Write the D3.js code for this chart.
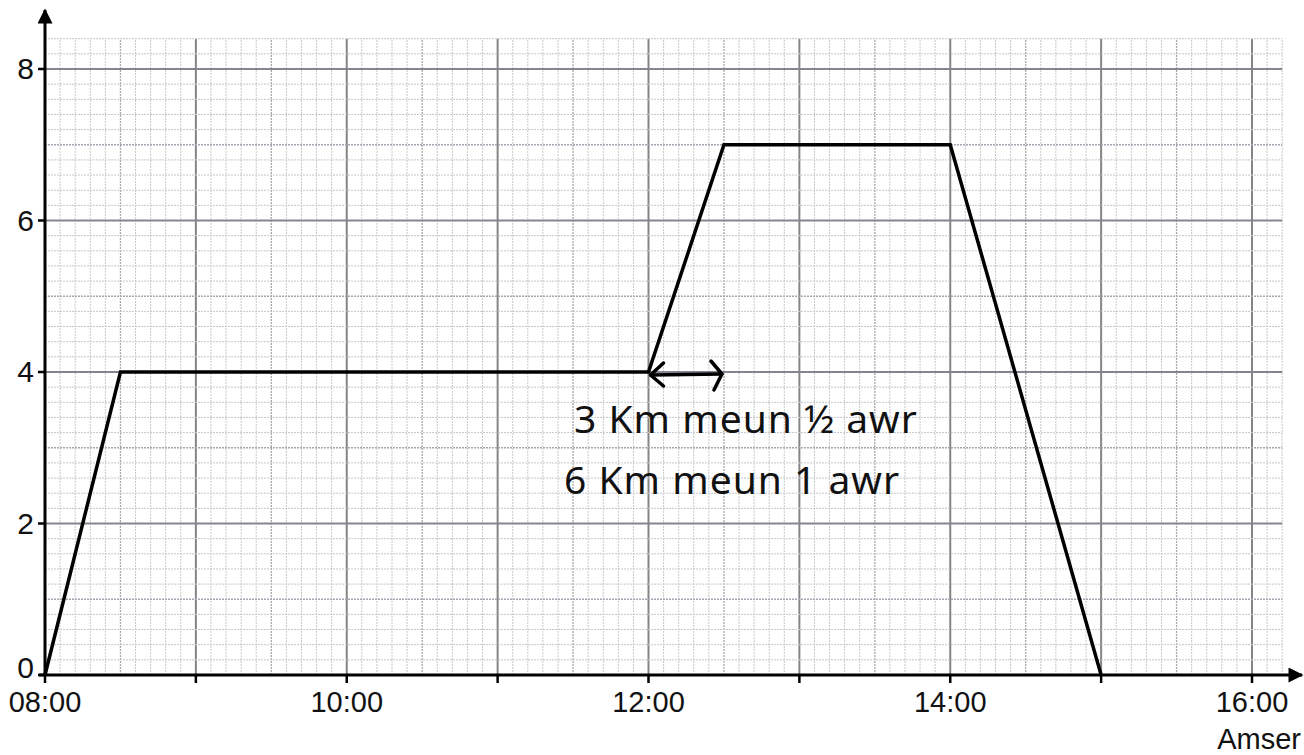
<!DOCTYPE html>
<html>
<head>
<meta charset="UTF-8">
<title>Pellter - Amser</title>
<script src="https://d3js.org/d3.v7.min.js"></script>
<style>
  * { margin: 0; padding: 0; }
  body { background: #fff; }
  text { font-family: "Liberation Sans", Arial, sans-serif; fill: #111; }
  .note { font-family: "Noto Sans", "DejaVu Sans", sans-serif; font-size: 39px; letter-spacing: 1px; }
</style>
</head>
<body>
<svg id="main" width="1304" height="755"></svg>
<script>
// journey: time (hours) vs distance
const times = [8, 8.5, 12, 12.5, 14, 15];
const distances = [0, 4, 4, 7, 7, 0];
const yTicks = [0, 2, 4, 6, 8];
const xTicks = [8, 9, 10, 11, 12, 13, 14, 15, 16];
const xLabels = ["08:00", "10:00", "12:00", "14:00", "16:00"];
const notes = ["3 Km meun ½ awr", "6 Km meun 1 awr"];
const xTitle = "Amser";

const svg = d3.select("#main");

const x = d3.scaleLinear().domain([8, 16]).range([45, 1252]);
const y = d3.scaleLinear().domain([0, 8]).range([675, 69]);

const xMax = 16.2, yMax = 8.4;

// graph paper grid
const grid = svg.append("g");
const vLines = d3.range(0, 83).map(i => 8 + i * 0.1);
const hLines = d3.range(0, 43).map(i => i * 0.2);

function vStyle(i) {
    if (i % 10 === 0) return ["#858585", 2];
    if (i % 5 === 0) return ["#a9a9a9", 1.3];
    return ["#c8c8c8", 1];
}
function hStyle(i) {
    if (i % 10 === 0) return ["#858590", 2];
    if (i % 5 === 0) return ["#a4a6b2", 1.3];
    return ["#c4c6ce", 1];
}

grid.selectAll("line.v")
    .data(vLines)
    .enter().append("line")
    .attr("class", "v")
    .attr("x1", d => x(d)).attr("x2", d => x(d))
    .attr("y1", y(0)).attr("y2", y(yMax))
    .attr("stroke", (d, i) => vStyle(i)[0])
    .attr("stroke-width", (d, i) => vStyle(i)[1])
    .attr("stroke-dasharray", (d, i) => i % 10 === 0 ? null : "2,1");

grid.selectAll("line.h")
    .data(hLines)
    .enter().append("line")
    .attr("class", "h")
    .attr("x1", x(8)).attr("x2", x(xMax))
    .attr("y1", d => y(d)).attr("y2", d => y(d))
    .attr("stroke", (d, i) => hStyle(i)[0])
    .attr("stroke-width", (d, i) => hStyle(i)[1])
    .attr("stroke-dasharray", (d, i) => i % 10 === 0 ? null : "2,1");

// axes with arrows
svg.append("defs").append("marker")
    .attr("id", "arrow")
    .attr("viewBox", "0 0 10 10")
    .attr("refX", 9).attr("refY", 5)
    .attr("markerWidth", 5.5).attr("markerHeight", 5)
    .attr("markerUnits", "strokeWidth")
    .attr("orient", "auto")
    .append("path")
    .attr("d", "M0,0 L10,5 L0,10 Z")
    .attr("fill", "#000");

svg.append("line")
    .attr("x1", x(8)).attr("y1", y(0))
    .attr("x2", x(8)).attr("y2", 10)
    .attr("stroke", "#000").attr("stroke-width", 3)
    .attr("marker-end", "url(#arrow)");

svg.append("line")
    .attr("x1", x(8) - 6).attr("y1", y(0))
    .attr("x2", 1302).attr("y2", y(0))
    .attr("stroke", "#000").attr("stroke-width", 3)
    .attr("marker-end", "url(#arrow)");

// y ticks + labels
const yAxis = svg.append("g");
yAxis.selectAll("line")
    .data(yTicks)
    .enter().append("line")
    .attr("x1", x(8) - 7).attr("x2", x(8))
    .attr("y1", d => y(d)).attr("y2", d => y(d))
    .attr("stroke", "#000").attr("stroke-width", 2.5);
yAxis.selectAll("text")
    .data(yTicks)
    .enter().append("text")
    .attr("x", x(8) - 11)
    .attr("y", d => y(d) + (d === 0 ? 3 : 10))
    .attr("text-anchor", "end")
    .attr("font-size", 30)
    .text(d => d);

// x ticks + labels
const xAxis = svg.append("g");
xAxis.selectAll("line")
    .data(xTicks)
    .enter().append("line")
    .attr("x1", d => x(d)).attr("x2", d => x(d))
    .attr("y1", y(0)).attr("y2", y(0) + 8)
    .attr("stroke", "#000").attr("stroke-width", 2.5);
xAxis.selectAll("text")
    .data(xLabels)
    .enter().append("text")
    .attr("x", d => x(+d.slice(0, 2)))
    .attr("y", 712)
    .attr("text-anchor", "middle")
    .attr("font-size", 29)
    .text(d => d);

svg.append("text")
    .attr("x", 1301).attr("y", 749)
    .attr("text-anchor", "end")
    .attr("font-size", 29)
    .text(xTitle);

// the journey
const pts = times.map((t, i) => [t, distances[i]]);
svg.append("path")
    .datum(pts)
    .attr("fill", "none")
    .attr("stroke", "#000")
    .attr("stroke-width", 3.5)
    .attr("stroke-linejoin", "miter")
    .attr("d", d3.line().x(d => x(d[0])).y(d => y(d[1])));

// annotation: double arrow 12:00 -> 12:30
const ay = y(4) + 3;
const ann = svg.append("g")
    .attr("fill", "none").attr("stroke", "#000")
    .attr("stroke-width", 3.5).attr("stroke-linecap", "round")
    .attr("stroke-linejoin", "round");
ann.append("line")
    .attr("x1", x(12) + 2).attr("x2", x(12.5) - 2)
    .attr("y1", ay).attr("y2", ay - 1);
ann.append("path")
    .attr("d", `M${x(12) + 15},${ay - 12} L${x(12) + 2},${ay} L${x(12) + 15},${ay + 11}`);
ann.append("path")
    .attr("d", `M${x(12.5) - 13},${ay - 14} L${x(12.5) - 2},${ay - 1} L${x(12.5) - 10},${ay + 15}`);

svg.selectAll("text.note")
    .data(notes)
    .enter().append("text")
    .attr("class", "note")
    .attr("x", (d, i) => i === 0 ? 574 : 564)
    .attr("y", (d, i) => 433 + i * 61)
    .text(d => d);
</script>
</body>
</html>
